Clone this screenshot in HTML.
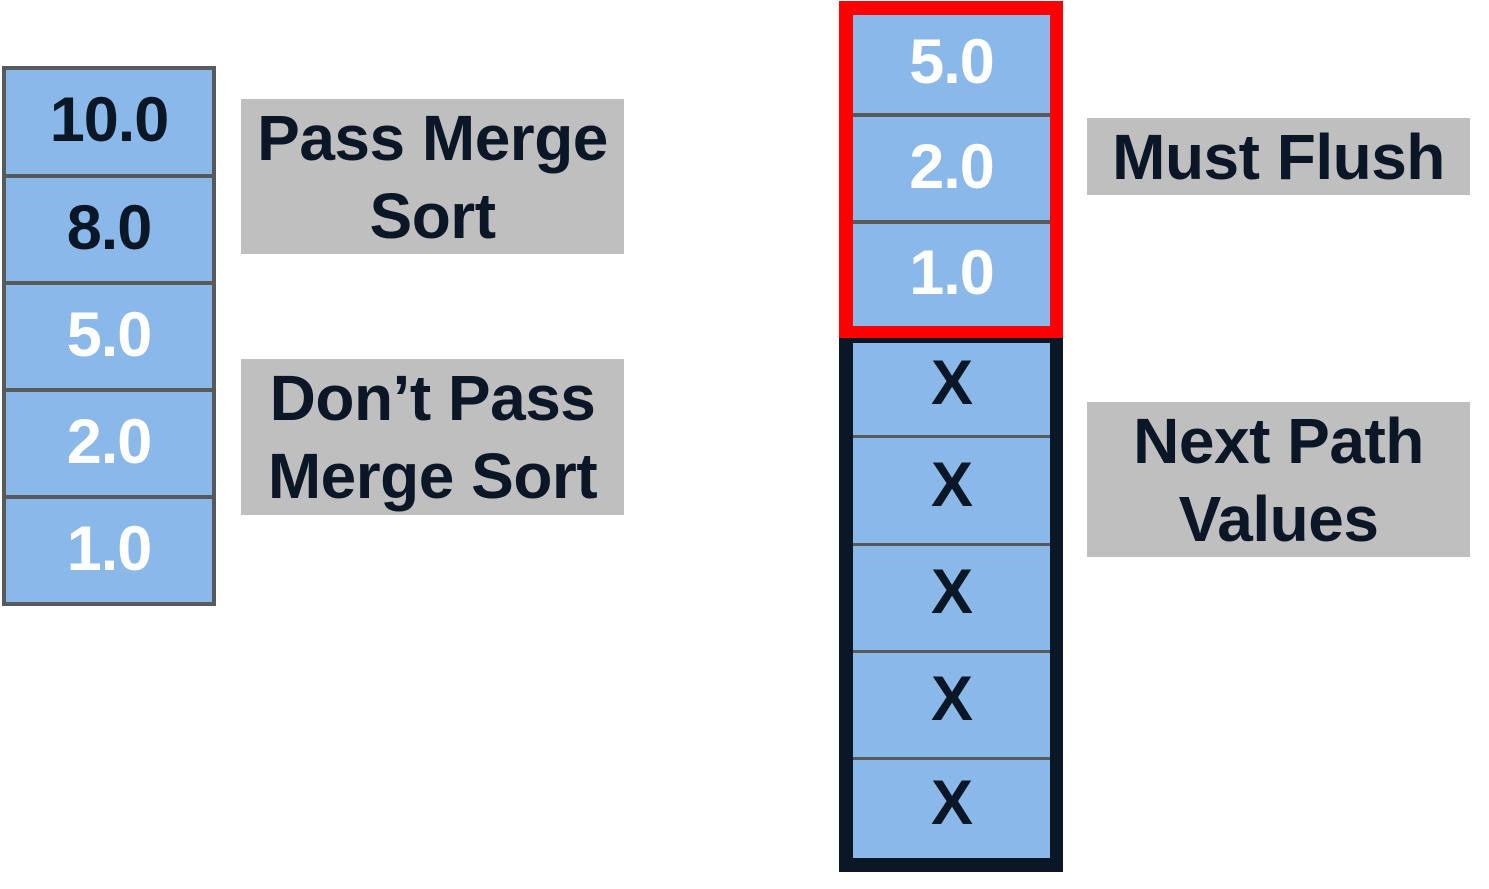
<!DOCTYPE html>
<html><head><meta charset="utf-8"><style>
body{margin:0;width:1489px;height:889px;background:#fff;position:relative;overflow:hidden;font-family:"Liberation Sans",Arial,sans-serif;font-weight:bold}
.a{position:absolute;box-sizing:border-box}
.cell{position:absolute;background:#8ab8e8;display:flex;align-items:center;justify-content:center;font-size:63px;letter-spacing:-1px;padding-bottom:4px;box-sizing:border-box}
.cell.x{padding-bottom:12px}
.lbl{position:absolute;background:#bfbfbf;display:flex;align-items:center;justify-content:center;text-align:center;color:#0b1726;font-size:64px;line-height:78px;letter-spacing:-0.5px;white-space:nowrap}
.dk{color:#0b1726}.wh{color:#fff}
</style></head><body>
<div class="a" style="left:2px;top:66px;width:214px;height:540px;background:#58595b"></div>
<div class="cell dk" style="left:6px;top:70px;width:206px;height:104px">10.0</div>
<div class="cell dk" style="left:6px;top:178px;width:206px;height:103px">8.0</div>
<div class="cell wh" style="left:6px;top:285px;width:206px;height:103px">5.0</div>
<div class="cell wh" style="left:6px;top:392px;width:206px;height:103px">2.0</div>
<div class="cell wh" style="left:6px;top:499px;width:206px;height:103px">1.0</div>

<div class="lbl" style="left:241px;top:99px;width:383px;height:155px">Pass Merge<br>Sort</div>
<div class="lbl" style="left:241px;top:359px;width:383px;height:156px">Don’t Pass<br>Merge Sort</div>

<div class="a" style="left:839px;top:330px;width:224px;height:542px;background:#0b1726"></div>
<div class="a" style="left:839px;top:1px;width:224px;height:337px;background:#ff0000"></div>
<div class="a" style="left:853px;top:15px;width:197px;height:311px;background:#58595b"></div>
<div class="cell wh" style="left:853px;top:15px;width:197px;height:98px">5.0</div>
<div class="cell wh" style="left:853px;top:117px;width:197px;height:103px">2.0</div>
<div class="cell wh" style="left:853px;top:224px;width:197px;height:102px">1.0</div>
<div class="a" style="left:853px;top:343px;width:197px;height:515px;background:#58595b"></div>
<div class="cell dk x" style="left:853px;top:343px;width:197px;height:92px">X</div>
<div class="cell dk x" style="left:853px;top:438px;width:197px;height:105px">X</div>
<div class="cell dk x" style="left:853px;top:546px;width:197px;height:104px">X</div>
<div class="cell dk x" style="left:853px;top:653px;width:197px;height:104px">X</div>
<div class="cell dk x" style="left:853px;top:760px;width:197px;height:98px">X</div>

<div class="lbl" style="left:1087px;top:118px;width:383px;height:77px">Must Flush</div>
<div class="lbl" style="left:1087px;top:402px;width:383px;height:155px">Next Path<br>Values</div>
</body></html>
